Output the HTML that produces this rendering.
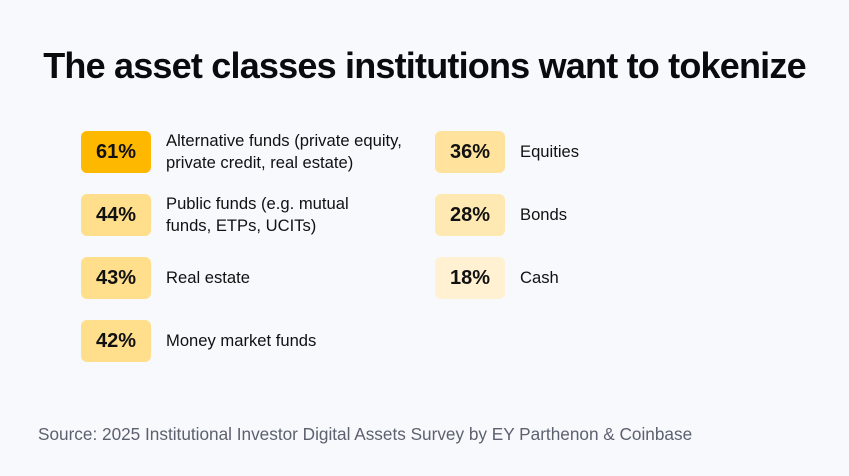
<!DOCTYPE html>
<html><head><meta charset="utf-8"><style>
body{margin:0;width:849px;height:476px;background:#f8f9fd;font-family:"Liberation Sans",sans-serif;position:relative;overflow:hidden}
#title{position:absolute;left:0;width:849px;top:44px;text-align:center;font-size:36px;font-weight:bold;color:#0a0b0d;letter-spacing:-0.8px;margin:0;line-height:44px}
.box{position:absolute;width:70px;height:42px;border-radius:6px;display:flex;align-items:center;justify-content:center;font-size:20px;font-weight:bold;color:#111}
.lab{position:absolute;font-size:16.6px;color:#111;line-height:22px;display:flex;align-items:center;height:42px}
#src{position:absolute;left:38px;top:424px;font-size:17.2px;color:#5b616e}
</style></head><body>
<h1 id="title">The asset classes institutions want to tokenize</h1>
<div id="chart"></div>
<div id="src">Source: 2025 Institutional Investor Digital Assets Survey by EY Parthenon &amp; Coinbase</div>
<script>
const categories=["Alternative funds (private equity,<br>private credit, real estate)","Public funds (e.g. mutual<br>funds, ETPs, UCITs)","Real estate","Money market funds","Equities","Bonds","Cash"];
const values=[61,44,43,42,36,28,18];
const chart=document.getElementById('chart');
function color(v){
  if(v>=60)return '#ffb800';
  if(v>=40)return '#ffdf8c';
  if(v>=30)return '#ffe39c';
  if(v>=25)return '#ffe9b3';
  return '#fff1d2';
}
values.forEach((v,i)=>{
  const col=i<4?0:1, row=i<4?i:i-4;
  const x=col?435:81, y=131+row*63;
  const b=document.createElement('div');
  b.className='box';
  
  
  b.style.left=x+'px';b.style.top=y+'px';b.style.background=color(v);
  b.textContent=v+'%';
  chart.appendChild(b);
  const l=document.createElement('div');
  l.className='lab';
  
  
  l.style.left=(x+85)+'px';l.style.top=y+'px';
  l.innerHTML='<span>'+categories[i]+'</span>';
  chart.appendChild(l);
});
</script>
</body></html>
